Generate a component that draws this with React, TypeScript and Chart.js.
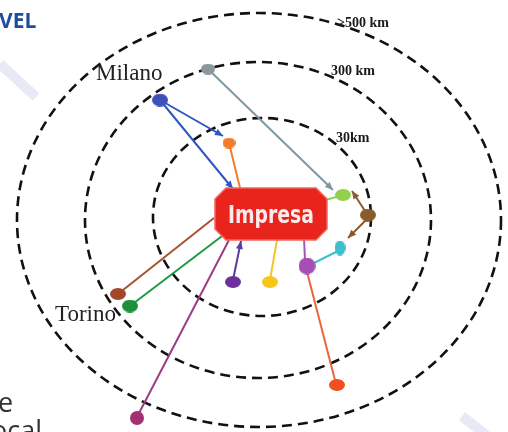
import React, { useEffect, useRef } from 'react';
import { Chart, registerables } from 'chart.js';

Chart.register(...registerables);

// Distance rings (diagram units = page units)
const ringLabels = ['30km', '300 km', '>500 km'];
const ringCenterX = [262, 258, 259];
const ringCenterY = [217, 220, 220];
const ringRadiusX = [109, 173, 242];
const ringRadiusY = [99, 158, 207];
const ringLabelX = [336, 331, 337];
const ringLabelY = [142, 75, 27];

// Hub
const hubLabel = 'Impresa';
const hubX = 271;
const hubY = 214;

// Nodes (suppliers / customers)
const nodeNames = ['gray', 'milano', 'orange', 'lightgreen', 'brown', 'cyan', 'magenta', 'yellow', 'darkpurple', 'torinoBrown', 'torinoGreen', 'orangered', 'plum'];
const nodeX = [208, 160, 229, 343, 368, 340, 307, 270, 233, 118, 130, 337, 137];
const nodeY = [69, 100, 143, 195, 215, 248, 266, 282, 282, 294, 306, 385, 418];

// Links
const linkX1 = [208, 160, 160, 229, 318, 367, 369, 340, 304, 306, 277, 233, 137, 118, 130];
const linkY1 = [69, 100, 100, 143, 202, 214, 217, 250, 238, 268, 240, 280, 417, 294, 306];
const linkX2 = [333, 223, 233, 240, 340, 352, 348, 312, 305, 336, 270, 241, 229, 214, 230];
const linkY2 = [190, 136, 189, 188, 196, 191, 238, 264, 260, 384, 280, 241, 240, 218, 230];
const linkArrow = [true, true, true, false, false, true, true, false, false, false, false, true, false, false, true];

// City labels
const cityLabels = ['Milano', 'Torino'];
const cityX = [96, 55];
const cityY = [80, 321];

// Page fragments
const fragmentTexts = ['VEL', 'e', 'ocal'];
const fragmentX = [-1, -2, -9];
const fragmentY = [28, 412, 440];

// Decorative diagonal bands
const bandX1 = [0, 462];
const bandY1 = [64, 416];
const bandX2 = [36, 492];
const bandY2 = [97, 440];

// ---- styles ----
const nodeColors = ['#8c979c', '#3d4fb8', '#f07c2e', '#92d050', '#8b5a2b', '#3dbfcf', '#a64db6', '#f7c51b', '#6b2f9e', '#a3472a', '#1e8f3b', '#f0501f', '#a23171'];
const nodeW = [14, 16, 13, 16, 16, 11, 17, 16, 16, 16, 16, 16, 14];
const nodeH = [11, 13, 11, 12, 13, 15, 17, 12, 12, 12, 13, 12, 14];
const linkColors = ['#7e97a6', '#2f57c4', '#2f57c4', '#f07c2e', '#92d050', '#8b5a2b', '#8b5a2b', '#3dbfcf', '#9f5ab8', '#e9663a', '#f2c62a', '#5a3aa4', '#9c3c82', '#a8522e', '#1e9a42'];

function makeBlob(color: string, w: number, h: number) {
  const c = document.createElement('canvas');
  c.width = w;
  c.height = h;
  const ctx = c.getContext('2d')!;
  ctx.fillStyle = color;
  ctx.beginPath();
  ctx.ellipse(w / 2, h / 2, w / 2, h / 2, 0, 0, Math.PI * 2);
  ctx.fill();
  return c;
}

const diagramPlugin = {
  id: 'diagram',
  beforeDatasetsDraw(chart: any) {
    const { ctx, scales } = chart;
    const xs = scales.x;
    const ys = scales.y;
    ctx.save();
    // bands
    ctx.strokeStyle = '#e7e9f5';
    ctx.lineWidth = 10;
    ctx.lineCap = 'butt';
    for (let i = 0; i < bandX1.length; i++) {
      ctx.beginPath();
      ctx.moveTo(xs.getPixelForValue(bandX1[i]), ys.getPixelForValue(bandY1[i]));
      ctx.lineTo(xs.getPixelForValue(bandX2[i]), ys.getPixelForValue(bandY2[i]));
      ctx.stroke();
    }
    // rings
    ctx.strokeStyle = '#111';
    ctx.lineWidth = 2.6;
    ctx.setLineDash([10, 6]);
    for (let i = 0; i < ringLabels.length; i++) {
      const cx = xs.getPixelForValue(ringCenterX[i]);
      const cy = ys.getPixelForValue(ringCenterY[i]);
      const rx = Math.abs(xs.getPixelForValue(ringCenterX[i] + ringRadiusX[i]) - cx);
      const ry = Math.abs(ys.getPixelForValue(ringCenterY[i] + ringRadiusY[i]) - cy);
      ctx.beginPath();
      ctx.ellipse(cx, cy, rx, ry, 0, 0, Math.PI * 2);
      ctx.stroke();
    }
    ctx.setLineDash([]);
    ctx.restore();
  },
  afterDatasetsDraw(chart: any) {
    const { ctx, scales } = chart;
    const xs = scales.x;
    const ys = scales.y;
    ctx.save();
    // arrowheads
    for (let i = 0; i < linkX1.length; i++) {
      if (!linkArrow[i]) continue;
      const x1 = xs.getPixelForValue(linkX1[i]);
      const y1 = ys.getPixelForValue(linkY1[i]);
      const x2 = xs.getPixelForValue(linkX2[i]);
      const y2 = ys.getPixelForValue(linkY2[i]);
      const a = Math.atan2(y2 - y1, x2 - x1);
      const L = 8;
      const W = 3.5;
      ctx.fillStyle = linkColors[i];
      ctx.beginPath();
      ctx.moveTo(x2, y2);
      ctx.lineTo(x2 - L * Math.cos(a) + W * Math.sin(a), y2 - L * Math.sin(a) - W * Math.cos(a));
      ctx.lineTo(x2 - L * Math.cos(a) - W * Math.sin(a), y2 - L * Math.sin(a) + W * Math.cos(a));
      ctx.closePath();
      ctx.fill();
    }
    // hub box (octagon)
    const cx = xs.getPixelForValue(hubX);
    const cy = ys.getPixelForValue(hubY);
    const hw = 56;
    const hh = 26;
    const ch = 11;
    ctx.fillStyle = '#e8241c';
    ctx.strokeStyle = '#f2665e';
    ctx.lineWidth = 1.5;
    ctx.beginPath();
    ctx.moveTo(cx - hw + ch, cy - hh);
    ctx.lineTo(cx + hw - ch, cy - hh);
    ctx.lineTo(cx + hw, cy - hh + ch);
    ctx.lineTo(cx + hw, cy + hh - ch);
    ctx.lineTo(cx + hw - ch, cy + hh);
    ctx.lineTo(cx - hw + ch, cy + hh);
    ctx.lineTo(cx - hw, cy + hh - ch);
    ctx.lineTo(cx - hw, cy - hh + ch);
    ctx.closePath();
    ctx.fill();
    ctx.stroke();
    ctx.fillStyle = '#fbeaea';
    ctx.font = 'bold 24px "DejaVu Sans Condensed", "DejaVu Sans", sans-serif';
    ctx.textBaseline = 'alphabetic';
    ctx.textAlign = 'left';
    const tw = ctx.measureText(hubLabel).width;
    const target = 86;
    ctx.save();
    ctx.translate(cx - target / 2, cy + 9);
    ctx.scale(target / tw, 1.05);
    ctx.fillText(hubLabel, 0, 0);
    ctx.restore();
    ctx.restore();
  },
  afterDraw(chart: any) {
    const { ctx, scales } = chart;
    const xs = scales.x;
    const ys = scales.y;
    ctx.save();
    ctx.textAlign = 'left';
    ctx.textBaseline = 'alphabetic';
    ctx.fillStyle = '#1a1a1a';
    ctx.font = 'bold 14px "Liberation Serif", "DejaVu Serif", serif';
    for (let i = 0; i < ringLabels.length; i++) {
      ctx.fillText(ringLabels[i], xs.getPixelForValue(ringLabelX[i]), ys.getPixelForValue(ringLabelY[i]));
    }
    ctx.font = '23px "Liberation Serif", "DejaVu Serif", serif';
    ctx.fillStyle = '#222';
    for (let i = 0; i < cityLabels.length; i++) {
      ctx.fillText(cityLabels[i], xs.getPixelForValue(cityX[i]), ys.getPixelForValue(cityY[i]));
    }
    ctx.fillStyle = '#1f4d9e';
    ctx.font = 'bold 21px "Open Sans", "DejaVu Sans", sans-serif';
    ctx.fillText(fragmentTexts[0], xs.getPixelForValue(fragmentX[0]), ys.getPixelForValue(fragmentY[0]));
    ctx.fillStyle = '#333';
    ctx.font = '27px "Open Sans", "DejaVu Sans", sans-serif';
    for (let i = 1; i < fragmentTexts.length; i++) {
      ctx.fillText(fragmentTexts[i], xs.getPixelForValue(fragmentX[i]), ys.getPixelForValue(fragmentY[i]));
    }
    ctx.restore();
  },
};

export default function App() {
  const ref = useRef<HTMLCanvasElement | null>(null);
  useEffect(() => {
    if (!ref.current) return;
    const linkSets = linkX1.map((_, i) => ({
      type: 'scatter' as const,
      data: [
        { x: linkX1[i], y: linkY1[i] },
        { x: linkX2[i], y: linkY2[i] },
      ],
      showLine: true,
      borderColor: linkColors[i],
      borderWidth: 2,
      pointRadius: 0,
      clip: false as any,
      order: 2,
    }));
    const nodeSet = {
      type: 'scatter' as const,
      data: nodeNames.map((_, i) => ({ x: nodeX[i], y: nodeY[i] })),
      pointStyle: nodeNames.map((_, i) => makeBlob(nodeColors[i], nodeW[i], nodeH[i])),
      pointRadius: 8,
      clip: false as any,
      order: 0,
    };
    const chart = new Chart(ref.current, {
      type: 'scatter',
      data: { datasets: [nodeSet as any, ...linkSets] },
      options: {
        animation: false,
        responsive: true,
        maintainAspectRatio: false,
        layout: { padding: 0, autoPadding: false },
        plugins: { legend: { display: false }, tooltip: { enabled: false } },
        events: [],
        scales: {
          x: { type: 'linear', min: 0, max: 508, display: false },
          y: { type: 'linear', min: 0, max: 432, reverse: true, display: false },
        },
      },
      plugins: [diagramPlugin],
    });
    return () => chart.destroy();
  }, []);
  return (
    <div style={{ position: 'fixed', left: 0, top: 0, width: 508, height: 432, background: '#fff' }}>
      <canvas ref={ref} />
    </div>
  );
}
